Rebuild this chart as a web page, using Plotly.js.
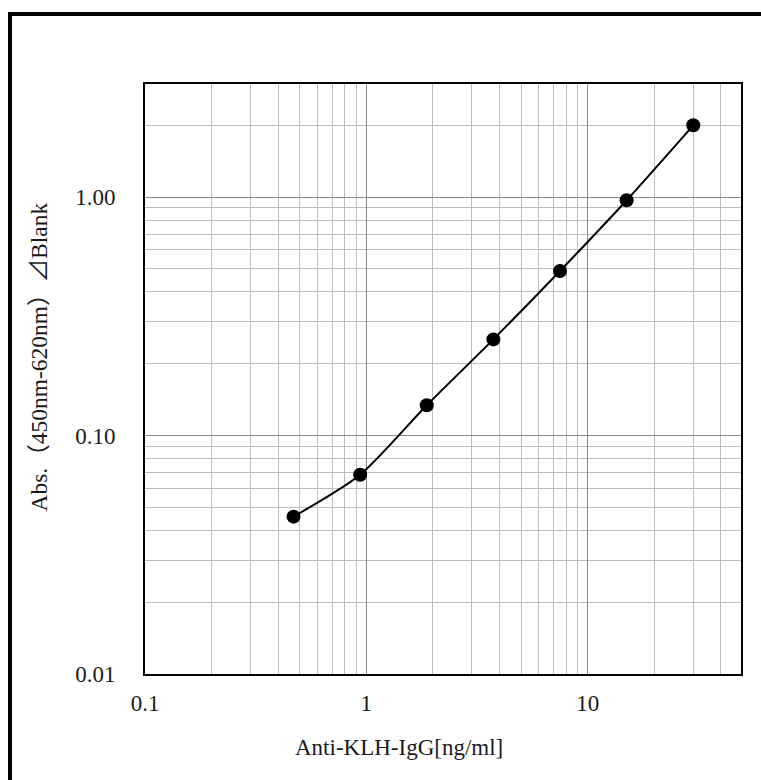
<!DOCTYPE html>
<html>
<head>
<meta charset="utf-8">
<script src="https://cdn.plot.ly/plotly-3.0.1.min.js"></script>
<style>
html,body{margin:0;padding:0;background:#fff;}
#chart{width:761px;height:780px;}
</style>
</head>
<body>
<div id="chart"></div>
<script>
// Data
const concentration = [0.469, 0.938, 1.875, 3.75, 7.5, 15, 30];
const absorbance = [0.0457, 0.0685, 0.134, 0.253, 0.49, 0.97, 2.0];

const xTickVals = [0.1, 1, 10];
const xTickText = ["0.1", "1", "10"];
const yTickVals = [0.01, 0.1, 1];
const yTickText = ["0.01", "0.10", "1.00"];

const xMinorVals = [0.2,0.3,0.4,0.5,0.6,0.7,0.8,0.9,2,3,4,5,6,7,8,9,20,30,40];
const yMinorVals = [0.02,0.03,0.04,0.05,0.06,0.07,0.08,0.09,0.2,0.3,0.4,0.5,0.6,0.7,0.8,0.9,2,3];

const xTitle = "Anti-KLH-IgG[ng/ml]";
const yTitle = "Abs.（450nm-620nm）⊿Blank";

const fontFam = "Liberation Serif, 'Noto Sans CJK JP', serif";
const txtColor = "#1a1a1a";

const trace = {
  x: concentration,
  y: absorbance,
  type: "scatter",
  mode: "lines+markers",
  line: {color: "#000", width: 2, shape: "spline", smoothing: 0.7},
  marker: {color: "#000", size: 14},
  cliponaxis: false,
  showlegend: false
};

const layout = {
  width: 761,
  height: 780,
  margin: {l: 145, r: 20, t: 84, b: 106},
  paper_bgcolor: "#fff",
  plot_bgcolor: "#fff",
  font: {family: fontFam, size: 23, color: txtColor},
  xaxis: {
    type: "log",
    range: [-1, Math.log10(49.3)],
    tickmode: "array",
    tickvals: xTickVals,
    ticktext: xTickText,
    ticks: "",
    ticklabelstandoff: 7,
    showgrid: true,
    gridcolor: "#8a8a8a",
    gridwidth: 1,
    minor: {tickmode: "array", tickvals: xMinorVals, showgrid: true, gridcolor: "#bdbdbd", gridwidth: 1, ticks: ""},
    showline: true,
    linecolor: "#000",
    linewidth: 2,
    mirror: true,
    zeroline: false
  },
  yaxis: {
    type: "log",
    range: [-2, Math.log10(2.98)],
    tickmode: "array",
    tickvals: yTickVals,
    ticktext: yTickText,
    ticks: "",
    ticklabelstandoff: 23,
    showgrid: true,
    gridcolor: "#8a8a8a",
    gridwidth: 1,
    minor: {tickmode: "array", tickvals: yMinorVals, showgrid: true, gridcolor: "#bdbdbd", gridwidth: 1, ticks: ""},
    showline: true,
    linecolor: "#000",
    linewidth: 2,
    mirror: true,
    zeroline: false
  },
  annotations: [
    {text: xTitle, xref: "paper", yref: "paper", x: 0.427, y: -0.1254,
     xanchor: "center", yanchor: "middle", showarrow: false,
     font: {family: fontFam, size: 23, color: txtColor}},
    {text: yTitle, xref: "paper", yref: "paper", x: -0.1779, y: 0.538,
     xanchor: "center", yanchor: "middle", showarrow: false, textangle: -90,
     font: {family: fontFam, size: 23.5, color: txtColor}}
  ],
  shapes: [{
    type: "rect", xref: "paper", yref: "paper",
    x0: -0.2265, x1: 1.2, y0: -0.3, y1: 1.1186,
    line: {color: "#000", width: 4}, fillcolor: "rgba(0,0,0,0)", layer: "below"
  }]
};

Plotly.newPlot("chart", [trace], layout, {displayModeBar: false, staticPlot: true});
</script>
</body>
</html>
